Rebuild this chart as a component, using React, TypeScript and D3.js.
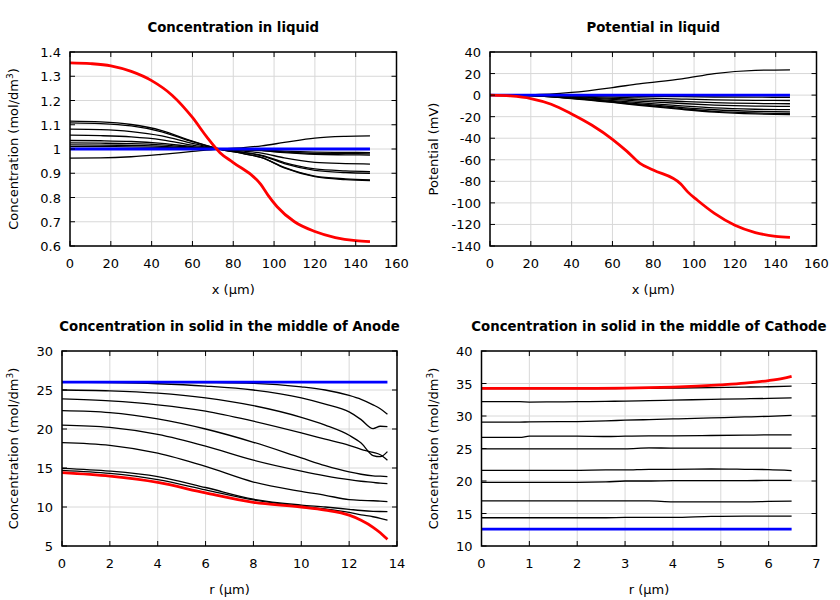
import React from "react";
import * as d3 from "d3";

// ---------- Data ----------
// Panel 1: Concentration in liquid
const liqX = [0, 15, 30, 45, 60, 73, 85, 94, 105, 120, 135, 147];
const liqConcBlack = [
  [1.115, 1.112, 1.101, 1.076, 1.032, 1.0, 0.981, 0.964, 0.922, 0.886, 0.874, 0.87],
  [1.108, 1.105, 1.095, 1.071, 1.03, 1.0, 0.981, 0.964, 0.924, 0.888, 0.877, 0.873],
  [1.082, 1.08, 1.072, 1.054, 1.023, 1.0, 0.985, 0.972, 0.94, 0.912, 0.903, 0.9],
  [1.057, 1.055, 1.05, 1.038, 1.016, 1.0, 0.986, 0.974, 0.944, 0.918, 0.91, 0.907],
  [1.035, 1.034, 1.031, 1.023, 1.01, 1.0, 0.991, 0.983, 0.963, 0.945, 0.94, 0.938],
  [1.025, 1.024, 1.022, 1.017, 1.007, 1.0, 0.996, 0.993, 0.985, 0.978, 0.976, 0.975],
  [1.017, 1.016, 1.015, 1.011, 1.005, 1.0, 0.997, 0.994, 0.988, 0.982, 0.981, 0.98],
  [1.01, 1.01, 1.009, 1.007, 1.003, 1.0, 0.998, 0.996, 0.991, 0.987, 0.986, 0.985],
  [0.962, 0.963, 0.968, 0.978, 0.99, 1.0, 1.006, 1.013, 1.027, 1.045, 1.052, 1.054],
];
const liqRedX = [0, 10, 20, 30, 40, 50, 60, 67, 73.5, 80, 93.5, 97, 101.5, 110, 120, 130, 140, 147];
const liqConcRed = [1.355, 1.352, 1.343, 1.32, 1.282, 1.222, 1.13, 1.05, 0.985, 0.944, 0.854, 0.81, 0.762, 0.7, 0.66, 0.635, 0.622, 0.618];
const liqBlueX = [0, 147];
const liqConcBlue = [1.0, 1.0];

// Panel 2: Potential in liquid
const potX = [0, 20, 40, 60, 73, 94, 110, 130, 147];
const potBlack = [
  [0, 0.3, 2.5, 7, 10.5, 15, 20, 23, 23.5],
  [0, -0.06, -0.36, -0.76, -1.04, -1.48, -1.76, -1.94, -2],
  [0, -0.15, -0.9, -1.9, -2.6, -3.7, -4.4, -4.85, -5],
  [0, -0.24, -1.44, -3.04, -4.16, -5.92, -7.04, -7.76, -8],
  [0, -0.3, -1.9, -4.0, -5.5, -7.8, -9.2, -10.2, -10.5],
  [0, -0.4, -2.4, -5.1, -7.0, -10.0, -11.9, -13.1, -13.5],
  [0, -0.5, -2.8, -5.9, -8.1, -11.5, -13.6, -15.0, -15.5],
  [0, -0.5, -3.1, -6.5, -8.8, -12.6, -15.0, -16.5, -17],
  [0, -0.5, -3.2, -6.8, -9.4, -13.3, -15.8, -17.5, -18],
];
const potRed = [0, -0.8, -3.2, -8.5, -17.5, -28, -41, -52, -63.3, -69.5, -82.5, -90, -97.3, -109.7, -120.7, -127.5, -131, -132];
const potBlue = [0, 0];

// Panel 3: Anode solid concentration
const anX = [0, 2, 4, 6, 8, 10, 11, 12, 12.5, 13, 13.3, 13.6];
const anBlack = [
  [26.0, 26.0, 26.0, 25.95, 25.85, 25.4, 25.0, 24.3, 23.8, 23.1, 22.6, 21.9],
  [26.0, 25.95, 25.8, 25.5, 25.0, 24.0, 23.2, 22.2, 21.2, 20.05, 20.35, 20.3],
  [25.0, 24.9, 24.6, 24.0, 23.0, 21.5, 20.5, 19.2, 18.2, 16.6, 16.45, 17.1],
  [23.85, 23.6, 23.1, 22.3, 21.0, 19.5, 18.7, 17.9, 17.4, 17.0, 16.7, 16.0],
  [22.35, 22.1, 21.3, 20.0, 18.3, 16.3, 15.3, 14.5, 14.2, 14.0, 13.95, 13.9],
  [20.5, 20.2, 19.3, 17.8, 16.0, 14.6, 14.0, 13.5, 13.3, 13.15, 13.05, 13.0],
  [18.25, 17.9, 16.9, 15.2, 13.2, 12.0, 11.5, 10.95, 10.85, 10.8, 10.75, 10.7],
  [14.96, 14.6, 13.9, 12.5, 11.0, 10.25, 10.0, 9.7, 9.55, 9.45, 9.42, 9.4],
  [14.7, 14.3, 13.5, 12.2, 10.9, 10.1, 9.75, 9.3, 9.0, 8.75, 8.55, 8.3],
];
const anRed = [14.4, 13.95, 13.15, 11.8, 10.6, 10.0, 9.6, 8.95, 8.3, 7.4, 6.7, 5.85];
const anBlueX = [0, 13.6];
const anBlue = [26.0, 26.0];

// Panel 4: Cathode solid concentration
const caX = [0, 0.8, 1.0, 2, 2.6, 3.0, 3.5, 4, 4.8, 5.5, 6, 6.48];
const caBlack = [
  [34.2, 34.2, 34.2, 34.2, 34.2, 34.25, 34.25, 34.3, 34.35, 34.45, 34.5, 34.6],
  [32.2, 32.2, 32.15, 32.2, 32.25, 32.3, 32.35, 32.45, 32.55, 32.65, 32.7, 32.8],
  [29.05, 29.05, 29.1, 29.15, 29.25, 29.35, 29.45, 29.55, 29.7, 29.85, 29.95, 30.1],
  [26.7, 26.7, 26.9, 26.9, 26.85, 26.9, 26.95, 26.95, 27.0, 27.05, 27.1, 27.1],
  [24.95, 24.95, 24.95, 24.95, 24.95, 24.95, 25.1, 25.05, 25.05, 25.05, 25.05, 25.05],
  [21.65, 21.65, 21.65, 21.65, 21.7, 21.7, 21.8, 21.8, 21.85, 21.8, 21.75, 21.6],
  [19.8, 19.8, 19.8, 19.8, 19.85, 20.0, 20.0, 20.05, 20.05, 20.05, 20.1, 20.1],
  [16.95, 16.95, 16.95, 16.95, 16.95, 16.95, 16.95, 16.8, 16.8, 16.8, 16.85, 16.9],
  [14.35, 14.35, 14.35, 14.35, 14.35, 14.4, 14.4, 14.4, 14.55, 14.6, 14.6, 14.6],
];
const caRedX = [0, 1, 2, 3, 3.5, 4, 4.5, 5, 5.5, 6, 6.3, 6.48];
const caRed = [34.25, 34.25, 34.25, 34.3, 34.35, 34.45, 34.6, 34.8, 35.05, 35.45, 35.8, 36.1];
const caBlueX = [0, 6.48];
const caBlue = [12.6, 12.6];

// Ticks
const liqXTicks = [0, 20, 40, 60, 80, 100, 120, 140, 160];
const liqConcTicks = [0.6, 0.7, 0.8, 0.9, 1, 1.1, 1.2, 1.3, 1.4];
const potTicks = [-140, -120, -100, -80, -60, -40, -20, 0, 20, 40];
const anXTicks = [0, 2, 4, 6, 8, 10, 12, 14];
const anYTicks = [5, 10, 15, 20, 25, 30];
const caXTicks = [0, 1, 2, 3, 4, 5, 6, 7];
const caYTicks = [10, 15, 20, 25, 30, 35, 40];

// ---------- Rendering ----------
type Series = { x: number[]; y: number[]; color: string; width: number };

const FONT = "DejaVu Sans, sans-serif";

function Panel(props: {
  left: number; right: number; top: number; bottom: number;
  xDomain: [number, number]; yDomain: [number, number];
  xTicks: number[]; yTicks: number[];
  title: string; xLabel: string; yLabel: React.ReactNode; yLabelX: number;
  series: Series[];
}) {
  const { left, right, top, bottom } = props;
  const xs = d3.scaleLinear().domain(props.xDomain).range([left, right]);
  const ys = d3.scaleLinear().domain(props.yDomain).range([bottom, top]);
  const fmt = (v: number) => String(+v.toFixed(2));
  const tl = 5;
  const cx = (left + right) / 2;
  const cy = (top + bottom) / 2;
  return (
    <g>
      {props.xTicks.map((t, i) => (
        <line key={"gx" + i} x1={xs(t)} x2={xs(t)} y1={top} y2={bottom} stroke="#d8d8d8" strokeWidth={1} />
      ))}
      {props.yTicks.map((t, i) => (
        <line key={"gy" + i} x1={left} x2={right} y1={ys(t)} y2={ys(t)} stroke="#d8d8d8" strokeWidth={1} />
      ))}
      <defs>
        <clipPath id={"clip" + left + top}>
          <rect x={left} y={top} width={right - left} height={bottom - top} />
        </clipPath>
      </defs>
      <g clipPath={`url(#clip${left}${top})`}>
        {props.series.map((s, i) => {
          const pts: [number, number][] = s.x.map((xv, j) => [xs(xv), ys(s.y[j])]);
          const path = d3.line().curve(d3.curveMonotoneX)(pts) || "";
          return <path key={i} d={path} fill="none" stroke={s.color} strokeWidth={s.width} strokeLinejoin="round" />;
        })}
      </g>
      {props.xTicks.map((t, i) => (
        <g key={"tx" + i}>
          <line x1={xs(t)} x2={xs(t)} y1={bottom} y2={bottom - tl} stroke="#000" />
          <line x1={xs(t)} x2={xs(t)} y1={top} y2={top + tl} stroke="#000" />
          <text x={xs(t)} y={bottom + 22} textAnchor="middle" fontSize={13} fontFamily={FONT}>{fmt(t)}</text>
        </g>
      ))}
      {props.yTicks.map((t, i) => (
        <g key={"ty" + i}>
          <line x1={left} x2={left + tl} y1={ys(t)} y2={ys(t)} stroke="#000" />
          <line x1={right} x2={right - tl} y1={ys(t)} y2={ys(t)} stroke="#000" />
          <text x={left - 9} y={ys(t) + 5} textAnchor="end" fontSize={13} fontFamily={FONT}>{fmt(t)}</text>
        </g>
      ))}
      <rect x={left} y={top} width={right - left} height={bottom - top} fill="none" stroke="#000" strokeWidth={1.5} />
      <text x={cx} y={top - 20} textAnchor="middle" fontSize={13.3} fontWeight="bold" fontFamily={FONT}>{props.title}</text>
      <text x={cx} y={bottom + 48} textAnchor="middle" fontSize={13} fontFamily={FONT}>{props.xLabel}</text>
      <text transform={`translate(${props.yLabelX},${cy}) rotate(-90)`} textAnchor="middle" fontSize={13} fontFamily={FONT}>{props.yLabel}</text>
    </g>
  );
}

const blackSeries = (x: number[], arr: number[][]): Series[] =>
  arr.map((y) => ({ x, y, color: "#000", width: 1.3 }));

const concLabel = (
  <>
    Concentration (mol/dm<tspan dy={-5} fontSize={9}>3</tspan><tspan dy={5}>)</tspan>
  </>
);

export default function App() {
  return (
    <svg width={840} height={600} style={{ position: "absolute", left: 0, top: 0, background: "#fff" }}>
      <rect x={0} y={0} width={840} height={600} fill="#fff" />
      <Panel
        left={70} right={396.5} top={52} bottom={246}
        xDomain={[0, 160]} yDomain={[0.6, 1.4]}
        xTicks={liqXTicks} yTicks={liqConcTicks}
        title="Concentration in liquid" xLabel="x (µm)" yLabel={concLabel} yLabelX={18}
        series={[
          ...blackSeries(liqX, liqConcBlack),
          { x: liqBlueX, y: liqConcBlue, color: "#0000ff", width: 2.8 },
          { x: liqRedX, y: liqConcRed, color: "#ff0000", width: 2.8 },
        ]}
      />
      <Panel
        left={490} right={816.5} top={52} bottom={246}
        xDomain={[0, 160]} yDomain={[-140, 40]}
        xTicks={liqXTicks} yTicks={potTicks}
        title="Potential in liquid" xLabel="x (µm)" yLabel="Potential (mV)" yLabelX={438}
        series={[
          ...blackSeries(potX, potBlack),
          { x: liqBlueX, y: potBlue, color: "#0000ff", width: 2.8 },
          { x: liqRedX, y: potRed, color: "#ff0000", width: 2.8 },
        ]}
      />
      <Panel
        left={62} right={397} top={351} bottom={546}
        xDomain={[0, 14]} yDomain={[5, 30]}
        xTicks={anXTicks} yTicks={anYTicks}
        title="Concentration in solid in the middle of Anode" xLabel="r (µm)" yLabel={concLabel} yLabelX={18}
        series={[
          ...blackSeries(anX, anBlack),
          { x: anBlueX, y: anBlue, color: "#0000ff", width: 2.8 },
          { x: anX, y: anRed, color: "#ff0000", width: 2.8 },
        ]}
      />
      <Panel
        left={481.5} right={816.5} top={351} bottom={546}
        xDomain={[0, 7]} yDomain={[10, 40]}
        xTicks={caXTicks} yTicks={caYTicks}
        title="Concentration in solid in the middle of Cathode" xLabel="r (µm)" yLabel={concLabel} yLabelX={438}
        series={[
          ...blackSeries(caX, caBlack),
          { x: caBlueX, y: caBlue, color: "#0000ff", width: 2.8 },
          { x: caRedX, y: caRed, color: "#ff0000", width: 2.8 },
        ]}
      />
    </svg>
  );
}
